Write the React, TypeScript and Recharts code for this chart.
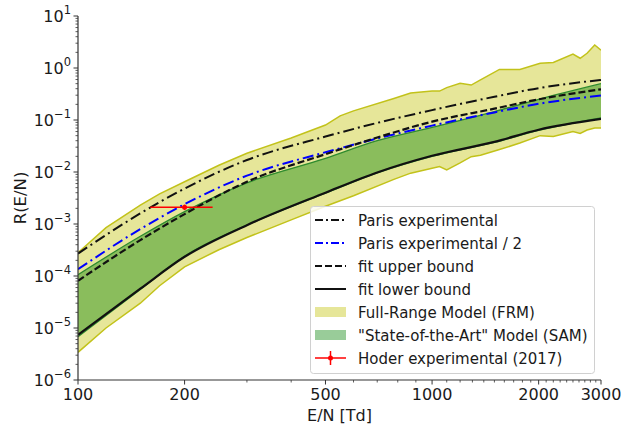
import React from "react";
import {
  Area,
  ComposedChart,
  ErrorBar,
  Legend,
  Line,
  Scatter,
  XAxis,
  YAxis,
} from "recharts";

// smooth curves, sampled on a common E/N grid (Td)
const EN = [100, 150, 200, 300, 500, 700, 1000, 1500, 2000, 3000];
const PARIS = [2.7e-4, 1.6e-3, 4.8e-3, 0.017, 0.048, 0.088, 0.155, 0.28, 0.41, 0.59];
const PARIS_HALF = [1.35e-4, 8e-4, 2.4e-3, 8.5e-3, 0.024, 0.044, 0.078, 0.14, 0.205, 0.295];
const FIT_UPPER = [8.1e-5, 4.9e-4, 1.55e-3, 6.5e-3, 0.022, 0.046, 0.093, 0.165, 0.25, 0.39];
const FIT_LOWER = [7.4e-6, 5.7e-5, 2.34e-4, 9.5e-4, 4.0e-3, 9.8e-3, 0.0205, 0.038, 0.065, 0.105];
const SAM_HIGH = [1.06e-4, 5.8e-4, 1.73e-3, 6.2e-3, 0.0183, 0.04, 0.072, 0.145, 0.25, 0.5];
const SAM_LOW = [6.8e-6, 5.5e-5, 2.4e-4, 9.5e-4, 3.9e-3, 9.6e-3, 0.02, 0.037, 0.063, 0.11];

// full-range model band (jagged at high E/N)
const FRM_EN = [100, 120, 150, 170, 200, 250, 300, 400, 500, 550, 600, 780, 870, 1000, 1050, 1100, 1200, 1290, 1370, 1550, 1770, 2020, 2200, 2500, 2620, 2740, 2880, 3000];
const FRM_HIGH = [2.8e-4, 8.5e-4, 2.3e-3, 3.8e-3, 6.5e-3, 0.0135, 0.023, 0.045, 0.08, 0.12, 0.15, 0.26, 0.33, 0.36, 0.36, 0.42, 0.51, 0.47, 0.59, 0.94, 0.94, 1.23, 1.28, 1.86, 1.54, 1.92, 2.77, 2.2];
const FRM_LOW = [3.4e-6, 1.0e-5, 3.0e-5, 6.5e-5, 1.5e-4, 3.2e-4, 5.5e-4, 1.2e-3, 2.2e-3, 2.8e-3, 3.5e-3, 7.2e-3, 9.5e-3, 0.0118, 0.0127, 0.011, 0.015, 0.0197, 0.021, 0.027, 0.036, 0.05, 0.048, 0.06, 0.055, 0.064, 0.07, 0.07];

// Hoder experimental (2017)
const HODER_EN = [200];
const HODER_R = [2.1e-3];
const HODER_EN_ERR = [40];
const HODER_R_ERR = [2.5e-4];

const X_TICKS = [100, 200, 500, 1000, 2000, 3000];
const Y_TICKS = [1e-6, 1e-5, 1e-4, 1e-3, 1e-2, 1e-1, 1, 10];
const Y_EXP = ["−6", "−5", "−4", "−3", "−2", "−1", "0", "1"];

const LEGEND_LABELS = [
  "Paris experimental",
  "Paris experimental / 2",
  "fit upper bound",
  "fit lower bound",
  "Full-Range Model (FRM)",
  "\"State-of-the-Art\" Model (SAM)",
  "Hoder experimental (2017)",
];

const FONT = "'DejaVu Sans', sans-serif";
const AXIS = "#333";
const FRM_FILL = "#e6e699";
const FRM_EDGE = "#c2c21a";
const SAM_FILL = "#8abd5c";
const SAM_EDGE = "#2e8b2e";
const DASHDOT = "11 4 2 4";

const lineData = EN.map((x, i) => ({
  x,
  paris: PARIS[i],
  parisHalf: PARIS_HALF[i],
  fitUpper: FIT_UPPER[i],
  fitLower: FIT_LOWER[i],
}));
const samData = EN.map((x, i) => ({ x, band: [SAM_LOW[i], SAM_HIGH[i]] }));
const frmData = FRM_EN.map((x, i) => ({ x, band: [FRM_LOW[i], FRM_HIGH[i]] }));
const hoderData = HODER_EN.map((x, i) => ({
  x,
  y: HODER_R[i],
  xErr: HODER_EN_ERR[i],
  yErr: HODER_R_ERR[i],
}));

// minor ticks every 100 Td, and 2..9 per decade on y
const xMinor: number[] = [];
for (let v = 300; v < 3000; v += 100) if (!X_TICKS.includes(v)) xMinor.push(v);
const yMinor: number[] = [];
for (let k = -6; k <= 0; k++) for (let m = 2; m <= 9; m++) yMinor.push(m * Math.pow(10, k));

const X_ALL = [...X_TICKS, ...xMinor].sort((a, b) => a - b);
const Y_ALL = [...Y_TICKS, ...yMinor].sort((a, b) => a - b);

function XTick(props: any) {
  const { x, y, payload } = props;
  const major = X_TICKS.includes(payload.value);
  return (
    <g>
      <line x1={x} x2={x} y1={y} y2={y + (major ? 4.5 : 2.5)} stroke={AXIS} strokeWidth={major ? 1 : 0.8} />
      {major && (
        <text x={x} y={y + 20} textAnchor="middle" fontSize={16} fontFamily={FONT} fill="#1a1a1a">
          {payload.value}
        </text>
      )}
    </g>
  );
}

function YTick(props: any) {
  const { x, y, payload } = props;
  const idx = Y_TICKS.findIndex((t) => Math.abs(Math.log10(t) - Math.log10(payload.value)) < 1e-6);
  const major = idx >= 0;
  return (
    <g>
      <line x1={x} x2={x - (major ? 4.5 : 2.5)} y1={y} y2={y} stroke={AXIS} strokeWidth={major ? 1 : 0.8} />
      {major && (
        <text x={x - 7} y={y + 6} textAnchor="end" fontSize={16} fontFamily={FONT} fill="#1a1a1a">
          10
          <tspan dy={-8} fontSize={11.5}>
            {Y_EXP[idx]}
          </tspan>
        </text>
      )}
    </g>
  );
}

function LegendBox() {
  const row = (i: number) => 14 + i * 23;
  return (
    <svg width={285} height={168} style={{ display: "block" }}>
      <rect x={0.5} y={0.5} width={284} height={167} rx={3} fill="#fff" fillOpacity={0.85} stroke="#d0d0d0" />
      <line x1={5} x2={36} y1={row(0)} y2={row(0)} stroke="#111" strokeWidth={2} strokeDasharray="8 3 2 3" />
      <line x1={5} x2={36} y1={row(1)} y2={row(1)} stroke="#0000ff" strokeWidth={2} strokeDasharray="8 3 2 3" />
      <line x1={5} x2={36} y1={row(2)} y2={row(2)} stroke="#111" strokeWidth={2} strokeDasharray="7 3" />
      <line x1={5} x2={36} y1={row(3)} y2={row(3)} stroke="#111" strokeWidth={2} />
      <rect x={5} y={row(4) - 5} width={31} height={10} fill={FRM_FILL} />
      <rect x={5} y={row(5) - 5} width={31} height={10} fill="#99cc99" />
      <line x1={5} x2={36} y1={row(6)} y2={row(6)} stroke="#ff0000" strokeWidth={1.5} />
      <line x1={20.5} x2={20.5} y1={row(6) - 7} y2={row(6) + 7} stroke="#ff0000" strokeWidth={1.5} />
      <circle cx={20.5} cy={row(6)} r={2.5} fill="#ff0000" />
      {LEGEND_LABELS.map((label, i) => (
        <text key={i} x={48} y={row(i) + 5.5} fontSize={15} fontFamily={FONT} fill="#1a1a1a">
          {label}
        </text>
      ))}
    </svg>
  );
}

export default function App() {
  return (
    <div style={{ position: "absolute", left: 0, top: 0, width: 630, height: 428, background: "#fff" }}>
      <ComposedChart width={630} height={428} margin={{ top: 16, right: 29, bottom: 0, left: 0 }}>
        <XAxis
          dataKey="x"
          type="number"
          scale="log"
          domain={[100, 3000]}
          allowDataOverflow
          ticks={X_ALL}
          interval={0}
          tick={(p: any) => <XTick {...p} />}
          tickLine={false}
          tickSize={0}
          tickMargin={0}
          axisLine={{ stroke: AXIS, strokeWidth: 1.2 }}
          height={48}
        />
        <XAxis
          xAxisId="top"
          orientation="top"
          dataKey="x"
          type="number"
          scale="log"
          domain={[100, 3000]}
          allowDataOverflow
          tick={false}
          tickLine={false}
          axisLine={{ stroke: AXIS, strokeWidth: 1.2 }}
          height={0}
        />
        <YAxis
          type="number"
          scale="log"
          domain={[1e-6, 10]}
          allowDataOverflow
          ticks={Y_ALL}
          interval={0}
          tick={(p: any) => <YTick {...p} />}
          tickLine={false}
          tickSize={0}
          tickMargin={0}
          axisLine={{ stroke: AXIS, strokeWidth: 1.2 }}
          width={78}
        />
        <YAxis
          yAxisId="right"
          orientation="right"
          type="number"
          scale="log"
          domain={[1e-6, 10]}
          allowDataOverflow
          tick={false}
          tickLine={false}
          axisLine={{ stroke: AXIS, strokeWidth: 1.2 }}
          width={0}
        />

        <Area data={frmData} dataKey="band" type="linear" fill={FRM_FILL} fillOpacity={1} stroke={FRM_EDGE} strokeWidth={1.5} isAnimationActive={false} />
        <Area data={samData} dataKey="band" type="monotone" fill={SAM_FILL} fillOpacity={1} stroke={SAM_EDGE} strokeWidth={1.3} isAnimationActive={false} />

        <Line data={lineData} dataKey="paris" type="monotone" stroke="#111" strokeWidth={2} strokeDasharray={DASHDOT} dot={false} isAnimationActive={false} />
        <Line data={lineData} dataKey="parisHalf" type="monotone" stroke="#0000ff" strokeWidth={2} strokeDasharray={DASHDOT} dot={false} isAnimationActive={false} />
        <Line data={lineData} dataKey="fitUpper" type="monotone" stroke="#111" strokeWidth={2.2} strokeDasharray="7 3" dot={false} isAnimationActive={false} />
        <Line data={lineData} dataKey="fitLower" type="monotone" stroke="#111" strokeWidth={2.2} dot={false} isAnimationActive={false} />

        <Scatter
          data={hoderData}
          dataKey="y"
          fill="#ff0000"
          isAnimationActive={false}
          shape={(p: any) => <circle cx={p.cx} cy={p.cy} r={2.5} fill="#ff0000" />}
        >
          <ErrorBar dataKey="xErr" direction="x" width={0} stroke="#ff0000" strokeWidth={1.5} isAnimationActive={false} />
          <ErrorBar dataKey="yErr" direction="y" width={0} stroke="#ff0000" strokeWidth={1.5} isAnimationActive={false} />
        </Scatter>

        <Legend
          layout="horizontal"
          align="center"
          verticalAlign="middle"
          content={() => <LegendBox />}
          wrapperStyle={{ position: "absolute", left: 310, top: 206, width: 285, height: 168 }}
        />

        <text x={339.5} y={421} textAnchor="middle" fontSize={16} fontFamily={FONT} fill="#1a1a1a">
          E/N [Td]
        </text>
        <text x={26} y={198} textAnchor="middle" fontSize={16.5} fontFamily={FONT} fill="#1a1a1a" transform="rotate(-90 26 198)">
          R(E/N)
        </text>
      </ComposedChart>
    </div>
  );
}
